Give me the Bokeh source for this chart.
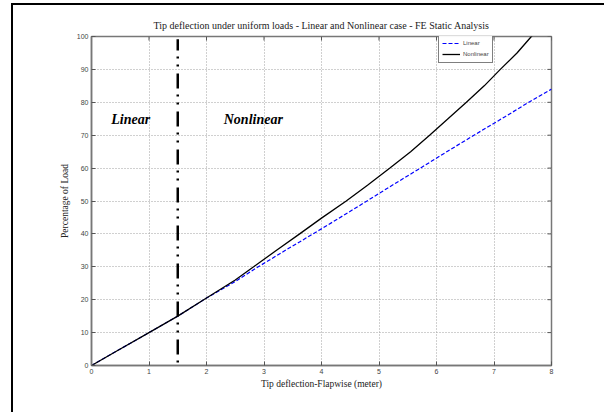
from bokeh.plotting import figure
from bokeh.models import Range1d, FixedTicker, Legend, LegendItem, Arrow, ColumnDataSource
from bokeh.core.properties import value
from bokeh.embed import file_html
from bokeh.resources import INLINE

x_ticks = [0, 1, 2, 3, 4, 5, 6, 7, 8]
y_ticks = [0, 10, 20, 30, 40, 50, 60, 70, 80, 90, 100]

lin_x = [0, 0.5, 1, 1.5, 2, 2.5, 2.9, 3.4, 3.95, 4.4, 4.79, 5.25, 5.72, 6.2, 6.7, 7.2, 7.65, 8]
lin_y = [0, 5, 10, 15, 20.5, 25.5, 30, 35.3, 41, 45.8, 50, 55, 60, 65.2, 70.5, 75.7, 80.5, 84]

nl_x = [0, 0.5, 1, 1.5, 2, 2.5, 2.82, 3.2, 3.62, 4.0, 4.43, 4.8, 5.19, 5.55, 5.88, 6.2, 6.52, 6.83, 7.11, 7.4, 7.65, 7.8]
nl_y = [0, 5, 10, 15, 20.5, 26, 30, 34.8, 40, 44.8, 50, 54.8, 60, 65, 70, 75, 80, 85, 90, 95, 100, 103]

divider_x = [1.5, 1.5]
divider_y = [-8.2, 99.2]

region_text = ["Linear", "Nonlinear"]
region_x = [0.343, 2.3]
region_y = [74.7, 74.7]

serif = "Liberation Serif"
sans = "Liberation Sans"

p = figure(width=604, height=412, output_backend="svg", toolbar_location=None,
           x_range=Range1d(0, 8), y_range=Range1d(0, 100),
           min_border_left=91, min_border_right=53, min_border_top=36, min_border_bottom=47,
           background_fill_color="white", border_fill_color=None,
           outline_line_color="#777777", outline_line_width=1.5)

p.styles = {"box-shadow": "inset 11px 3px 0 0 white, inset 13px 5px 0 0 black"}

p.title.text = "Tip deflection under uniform loads - Linear and Nonlinear case - FE Static Analysis"
p.title.text_font = serif
p.title.text_font_size = "10px"
p.title.text_font_style = "normal"
p.title.align = "center"
p.title.text_color = "#222222"
p.title.standoff = 11


def style_axis(ax):
    ax.axis_line_color = "#777777"
    ax.axis_line_width = 1.5
    ax.major_tick_in = 4
    ax.major_tick_out = 0
    ax.major_tick_line_color = "#555555"
    ax.minor_tick_line_color = None
    ax.major_label_text_font = sans
    ax.major_label_text_font_size = "7px"
    ax.major_label_text_color = "#444444"
    ax.major_label_standoff = 3
    ax.axis_label_text_font = serif
    ax.axis_label_text_font_size = "9.5px"
    ax.axis_label_text_font_style = "normal"
    ax.axis_label_text_color = "#222222"


xb = p.xaxis[0]
xb.ticker = FixedTicker(ticks=x_ticks)
style_axis(xb)
xb.axis_label = "Tip deflection-Flapwise (meter)"
xb.axis_label_standoff = 2

yl = p.yaxis[0]
yl.ticker = FixedTicker(ticks=y_ticks)
style_axis(yl)
yl.axis_label = "Percentage of Load"
yl.axis_label_standoff = 4

p.xgrid.ticker = FixedTicker(ticks=x_ticks)
p.ygrid.ticker = FixedTicker(ticks=y_ticks)
for g in (p.xgrid, p.ygrid):
    g.grid_line_color = "#a0a0a0"
    g.grid_line_dash = "1 2"
    g.grid_line_width = 1

# inward ticks on the top and right box edges (MATLAB "box on")
x_max, y_max = x_ticks[-1], y_ticks[-1]
p.segment(x0=x_ticks, y0=[y_max] * len(x_ticks), x1=x_ticks, y1=[y_max - 4 / 3.293] * len(x_ticks),
          line_color="#555555", line_width=1)
p.segment(x0=[x_max] * len(y_ticks), y0=y_ticks, x1=[x_max - 4 / 57.5] * len(y_ticks), y1=y_ticks,
          line_color="#555555", line_width=1)

r_lin = p.line(lin_x, lin_y, line_color="#0000ff", line_width=1.2, line_dash="4 2")
r_nl = p.line(nl_x, nl_y, line_color="black", line_width=1.3)

p.add_layout(Arrow(x_start=divider_x[0], y_start=divider_y[0], x_end=divider_x[1], y_end=divider_y[1],
                   end=None, start=None, line_color="black", line_width=2.5,
                   line_dash="15 7 2 6 2 6"))

src = ColumnDataSource(dict(x=region_x, y=region_y, t=region_text))
p.text("x", "y", "t", source=src, text_font=value(serif), text_font_size="14px",
       text_font_style="bold italic", text_color="black", text_baseline="alphabetic", text_align="left")

legend = Legend(items=[LegendItem(label="Linear", renderers=[r_lin]),
                       LegendItem(label="Nonlinear", renderers=[r_nl])],
                location=(347, 302), label_text_font=sans, label_text_font_size="6px",
                border_line_color="black", border_line_width=1, glyph_width=18, glyph_height=10,
                label_height=10, padding=3, spacing=1, margin=0, label_standoff=3,
                background_fill_color="white")
p.add_layout(legend)

open("out.html", "w").write(file_html(p, INLINE))
